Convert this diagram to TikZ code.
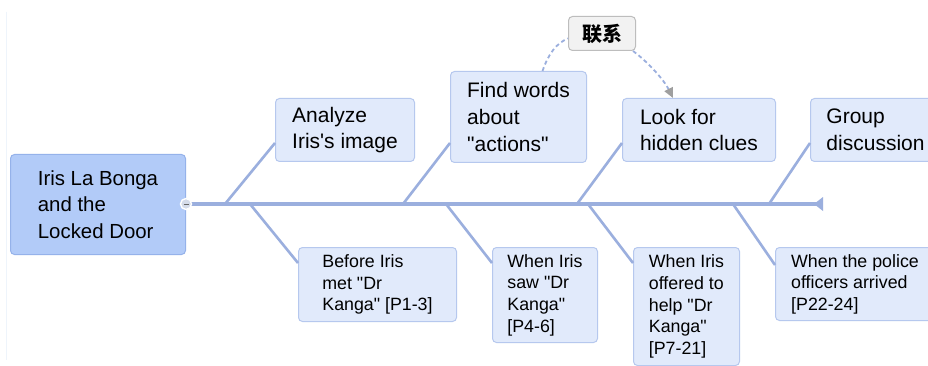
\documentclass[tikz,border=0pt]{standalone}
\usepackage{fontspec}
\setmainfont{Liberation Sans}[Ligatures=TeXOff]
\newfontfamily\cjk{Noto Sans CJK SC}
\usetikzlibrary{arrows.meta,calc}
\definecolor{linec}{HTML}{9BAFDE}
\definecolor{mainfill}{HTML}{B2CBF8}
\definecolor{mainedge}{HTML}{95B2EA}
\definecolor{subfill}{HTML}{E1EAFB}
\definecolor{subedge}{HTML}{B6C8EE}
\definecolor{tagfill}{HTML}{F2F2F2}
\definecolor{tagedge}{HTML}{BDBDBD}
\definecolor{faint}{HTML}{EEF4FB}
\definecolor{knobfill}{HTML}{D5DCEA}
\tikzset{
 basebox/.style={rectangle, rounded corners=4pt, anchor=north west, inner sep=0pt, align=left, line width=1pt},
 mainbox/.style={basebox, draw=mainedge, fill=mainfill, font=\fontsize{20.4}{26.7}\selectfont},
 topbox/.style={basebox, draw=subedge, fill=subfill, font=\fontsize{21}{26.7}\selectfont},
 botbox/.style={basebox, draw=subedge, fill=subfill, font=\fontsize{17.8}{21.6}\selectfont},
 tagbox/.style={basebox, draw=tagedge, fill=tagfill, align=center, font=\cjk\bfseries\fontsize{20}{24}\selectfont},
 spine/.style={draw=linec, line width=4pt},
 bone/.style={draw=linec, line width=2.6pt},
 link/.style={draw=linec, line width=1.8pt, dash pattern=on 4pt off 3pt},
}
\begin{document}
\begin{tikzpicture}[x=1pt,y=-1pt]
\useasboundingbox (0,0) rectangle (928,366);
\clip (0,0) rectangle (928,366);
\fill[white] (0,0) rectangle (928,366);
\draw[faint, line width=1pt] (6,12) -- (6,360);

% nodes
\node[mainbox, minimum width=175, minimum height=100] (root) at (10,154) {Iris La Bonga\\and the\\Locked Door};
\node[topbox, minimum width=139, minimum height=63] (analyze) at (275,98) {Analyze\\Iris's image};
\node[topbox, minimum width=136, minimum height=91] (find) at (450,71) {Find words\\about\\"actions"};
\node[topbox, minimum width=153, minimum height=63] (look) at (622,98) {Look for\\hidden clues};
\node[topbox, minimum width=130, minimum height=63] (group) at (810,98) {Group\\discussion};
\node[tagbox, minimum width=67, minimum height=34] (lianxi) at (568,16) {联系};

\node[botbox, minimum width=158, minimum height=74] (before) at (298,247) {Before Iris\\met "Dr\\Kanga" [P1-3]};
\node[botbox, minimum width=105, minimum height=95] (saw) at (492,247) {When Iris\\saw "Dr\\Kanga"\\{[P4-6]}};
\node[botbox, minimum width=106, minimum height=118] (offered) at (633,247) {When Iris\\offered to\\help "Dr\\Kanga"\\{[P7-21]}};
\node[botbox, minimum width=159, minimum height=73] (police) at (775,247) {When the police\\officers arrived\\{[P22-24]}};

% spine
\coordinate (s0) at (186,204);
\coordinate (s1) at (818,204);
\draw[spine] (s0) -- (s1);
\fill[linec] (814,204) -- (823,197) -- (823,211) -- cycle;

% bones
\coordinate (hu) at (0,143);
\coordinate (hd) at (0,263);
\coordinate (u1) at (225,204);
\coordinate (u2) at (403,204);
\coordinate (u3) at (577,204);
\coordinate (u4) at (769,204);
\coordinate (d1) at (250,204);
\coordinate (d2) at (446,204);
\coordinate (d3) at (588,204);
\coordinate (d4) at (733,204);
\draw[bone] (u1) -- (analyze.west |- hu);
\draw[bone] (u2) -- (find.west |- hu);
\draw[bone] (u3) -- (look.west |- hu);
\draw[bone] (u4) -- (group.west |- hu);
\draw[bone] (d1) -- (before.west |- hd);
\draw[bone] (d2) -- (saw.west |- hd);
\draw[bone] (d3) -- (offered.west |- hd);
\draw[bone] (d4) -- ($(police.west |- hd)+(0,2)$);

% knob
\node[circle, minimum size=11, inner sep=0pt, fill=knobfill, draw=white, line width=1.4pt] (knob) at (s0) {};
\draw[gray!80!black, line width=1pt] ($(knob.center)+(-2.5,0)$) -- ($(knob.center)+(2.5,0)$);

% dashed relations
\draw[link] ($(find.north)+(24,0)$) .. controls (548,55) and (556,43) .. ($(lianxi.west)+(0,5)$);
\draw[link, -{Triangle[length=10pt,width=9pt,color=gray!75]}] ($(lianxi.south east)+(-3,0)$) .. controls (648,62) and (664,80) .. ($(look.north west)+(51,0)$);
\end{tikzpicture}
\end{document}
